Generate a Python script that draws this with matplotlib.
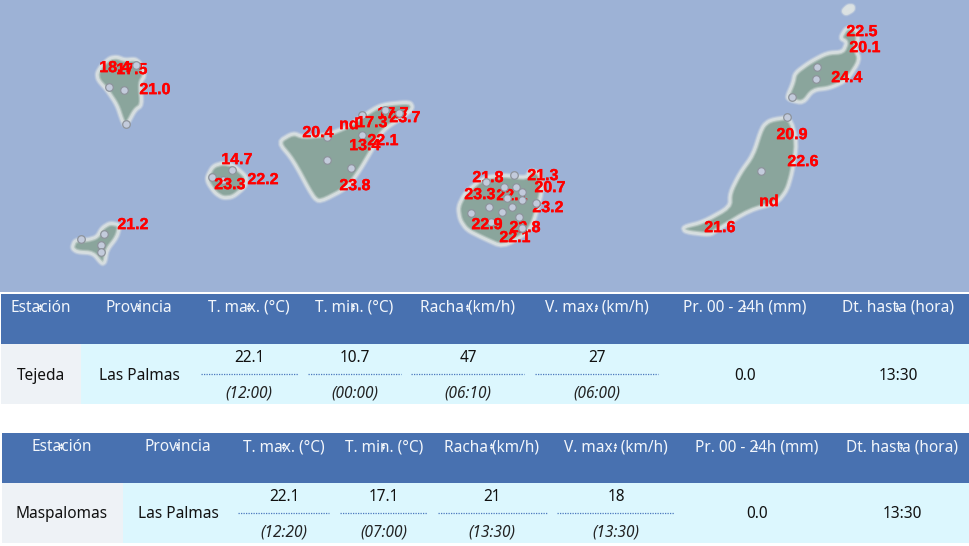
import matplotlib
matplotlib.use("Agg")
import matplotlib.pyplot as plt
from matplotlib.patches import Polygon, Rectangle
import matplotlib.patheffects as pe

SEA = "#9DB2D6"; LAND = "#8AA59C"; COAST = "#DDE3E3"
HEAD = "#4871B0"; ROW = "#DCF7FE"; FIRST = "#EEF2F6"
FONT = "Noto Sans"

la_palma = [(97,73),(102,65),(110,58),(117,57),(125,60),(135,59),(140,63),(145,75),(140,83),(142,105),(135,110),(128,123),(125,126),(122,120),(117,105),(107,90),(98,80)]
la_gomera = [(207,177),(213,166),(223,163),(233,165),(247,177),(245,187),(233,197),(223,198),(215,193),(208,183)]
el_hierro = [(72,248),(75,240),(87,240),(97,237),(102,228),(110,223),(120,225),(117,237),(107,250),(105,262),(102,264),(93,253),(77,252)]
tenerife = [(278,142),(293,133),(303,137),(327,135),(347,127),(360,118),(377,107),(387,104),(410,102),(413,108),(403,117),(383,130),(373,148),(360,170),(347,188),(320,202),(313,197),(293,160)]
gran_canaria = [(458,207),(465,193),(483,178),(503,175),(527,178),(530,170),(540,173),(542,190),(538,207),(533,223),(527,233),(503,247),(483,238),(467,230),(460,220)]
fuerteventura = [(683,227),(703,222),(730,207),(730,193),(740,173),(753,155),(762,127),(770,120),(790,117),(797,143),(792,173),(787,190),(777,203),(750,210),(717,230),(710,235),(685,232)]
lanzarote = [(787,97),(793,83),(795,73),(810,62),(827,53),(843,52),(847,42),(840,38),(847,27),(857,30),(858,40),(855,48),(860,60),(847,80),(830,88),(813,90),(803,103),(790,100)]
alegranza = [(843,11),(848,6),(853,6),(853,10),(846,14)]
islands = [la_palma, la_gomera, el_hierro, tenerife, gran_canaria, fuerteventura, lanzarote]

stations_x = [136,109,124,126, 232,212,223, 81,104,101,101, 362,385,399,327,362,327,351,
              486,514,504,516,522,522,507,536,489,512,502,471,519,491,522, 817,816,792, 787,761]
stations_y = [65,87,90,124, 170,177,180, 239,234,245,252, 115,110,113,137,135,160,168,
              182,175,187,187,192,200,198,203,207,207,212,213,217,222,228, 67,79,97, 117,171]
on_top = [486,514,504,516,522,507,536,489,512,502,471,519,136,399,385]

map_labels = ["18.4","17.5","21.0","14.7","22.2","23.3","21.2","20.4","nd","17.3","17.7","23.7","22.1","13.4","23.8",
              "21.8","21.3","20.7","23.3","22.1","23.2","22.9","22.8","22.1","22.5","20.1","24.4","20.9","22.6","nd","21.6"]
label_x = [115,132,155,237,263,230,133,318,349,372,393,405,383,365,355,
           488,543,550,480,512,548,487,525,515,862,865,847,792,803,769,720]
label_y = [67,69,89,159,179,184,224,132,124,122,113,117,140,145,185,
           177,175,187,194,195,207,224,227,237,31,47,77,134,161,201,227]

head_1 = ["Estación","Provincia","T. max. (°C)","T. min. (°C)","Racha (km/h)","V. max. (km/h)","Pr. 00 - 24h (mm)","Dt. hasta (hora)"]
x_1 = [41,139,249,354.5,468,597,745,898]
head_2 = head_1
x_2 = [62,178,284,384,492,616,757,902]
dots_1 = [(201,298),(308,401),(411,524),(535,658)]
dots_2 = [(238,329),(340,427),(438,547),(557,674)]
row_1 = ["Tejeda","Las Palmas","22.1","10.7","47","27","0.0","13:30"]
times_1 = ["(12:00)","(00:00)","(06:10)","(06:00)"]
row_2 = ["Maspalomas","Las Palmas","22.1","17.1","21","18","0.0","13:30"]
times_2 = ["(12:20)","(07:00)","(13:30)","(13:30)"]


def smooth(pts, n=2):
    for _ in range(n):
        out = []
        for i, (x, y) in enumerate(pts):
            x2, y2 = pts[(i + 1) % len(pts)]
            out.append((.8*x + .2*x2, .8*y + .2*y2))
            out.append((.2*x + .8*x2, .2*y + .8*y2))
        pts = out
    return pts


fig = plt.figure(figsize=(9.70, 5.46), dpi=100, facecolor="white")
ax = fig.add_axes([0, 0, 1, 1])
ax.set_xlim(0, 970); ax.set_ylim(546, 0); ax.axis("off")

ax.add_patch(Rectangle((0, 0), 970, 292, fc=SEA, ec="none", zorder=0))

for isl in islands:
    ax.add_patch(Polygon(smooth(isl), closed=True, fc=LAND, ec="none", zorder=1))
    for w, a in [(4.6, .22), (3.4, .4), (2.0, .8)]:
        ax.add_patch(Polygon(smooth(isl), closed=True, fc="none", ec=COAST, lw=w, alpha=a,
                             joinstyle="round", zorder=1.5))
for w, a in [(4.6, .22), (3.4, .4), (2.4, .9)]:
    ax.add_patch(Polygon(smooth(alegranza), closed=True, fc=COAST, ec=COAST, lw=w, alpha=a,
                         joinstyle="round", zorder=1.5))

for x, y, s in zip(label_x, label_y, map_labels):
    ax.text(x, y + .6, s, color="#FF0000", fontsize=11.5, fontweight="bold", family="Liberation Sans",
            ha="center", va="center", zorder=3,
            path_effects=[pe.withStroke(linewidth=.25, foreground="#FF0000")])

for x, y in zip(stations_x, stations_y):
    ax.scatter([x], [y], s=30, c="#C3CBDC", edgecolors="#8E949C", linewidths=.9,
               zorder=4 if x in on_top else 2)


def table(top, hh, bottom, x0, first_w, heads, xs, row, times, dots):
    ax.add_patch(Rectangle((x0, top), 970-x0, hh, fc=HEAD, ec="none", zorder=1))
    ax.add_patch(Rectangle((x0, top+hh), 970-x0, bottom-top-hh, fc=ROW, ec="none", zorder=1))
    ax.add_patch(Rectangle((x0, top+hh), first_w, bottom-top-hh, fc=FIRST, ec="none", zorder=1))
    for h, x in zip(heads, xs):
        ax.text(x, top+14, h, color="#F2F6FB", fontsize=11.1, family=FONT, ha="center", va="center", zorder=3)
        ax.plot([x-1], [top+11], marker="^", ms=2.4, color="#F2F6FB", mew=0, zorder=4)
        ax.plot([x-1], [top+15], marker="v", ms=2.4, color="#F2F6FB", mew=0, zorder=4)
    mid = top + hh + (bottom-top-hh)/2
    for i, (s, x) in enumerate(zip(row, xs)):
        if 2 <= i <= 5:
            ax.text(x, top+hh+14, s, color="#111111", fontsize=11.1, family=FONT, ha="center", va="center", zorder=3)
            ax.text(x, bottom-10.5, times[i-2], color="#222222", fontsize=11.1, style="italic", family=FONT, ha="center", va="center", zorder=3)
            a, b = dots[i-2]
            ax.plot([a, b], [mid-.5, mid-.5], color="#4C78BE", lw=.9, ls=(0, (1, 1)), zorder=3)
        else:
            ax.text(x, mid+1.5, s, color="#111111", fontsize=11.1, family=FONT, ha="center", va="center", zorder=3)


table(293.5, 50.5, 404, 1, 80, head_1, x_1, row_1, times_1, dots_1)
table(433, 50, 543, 2, 121, head_2, x_2, row_2, times_2, dots_2)

fig.savefig("out.png", dpi=100)
